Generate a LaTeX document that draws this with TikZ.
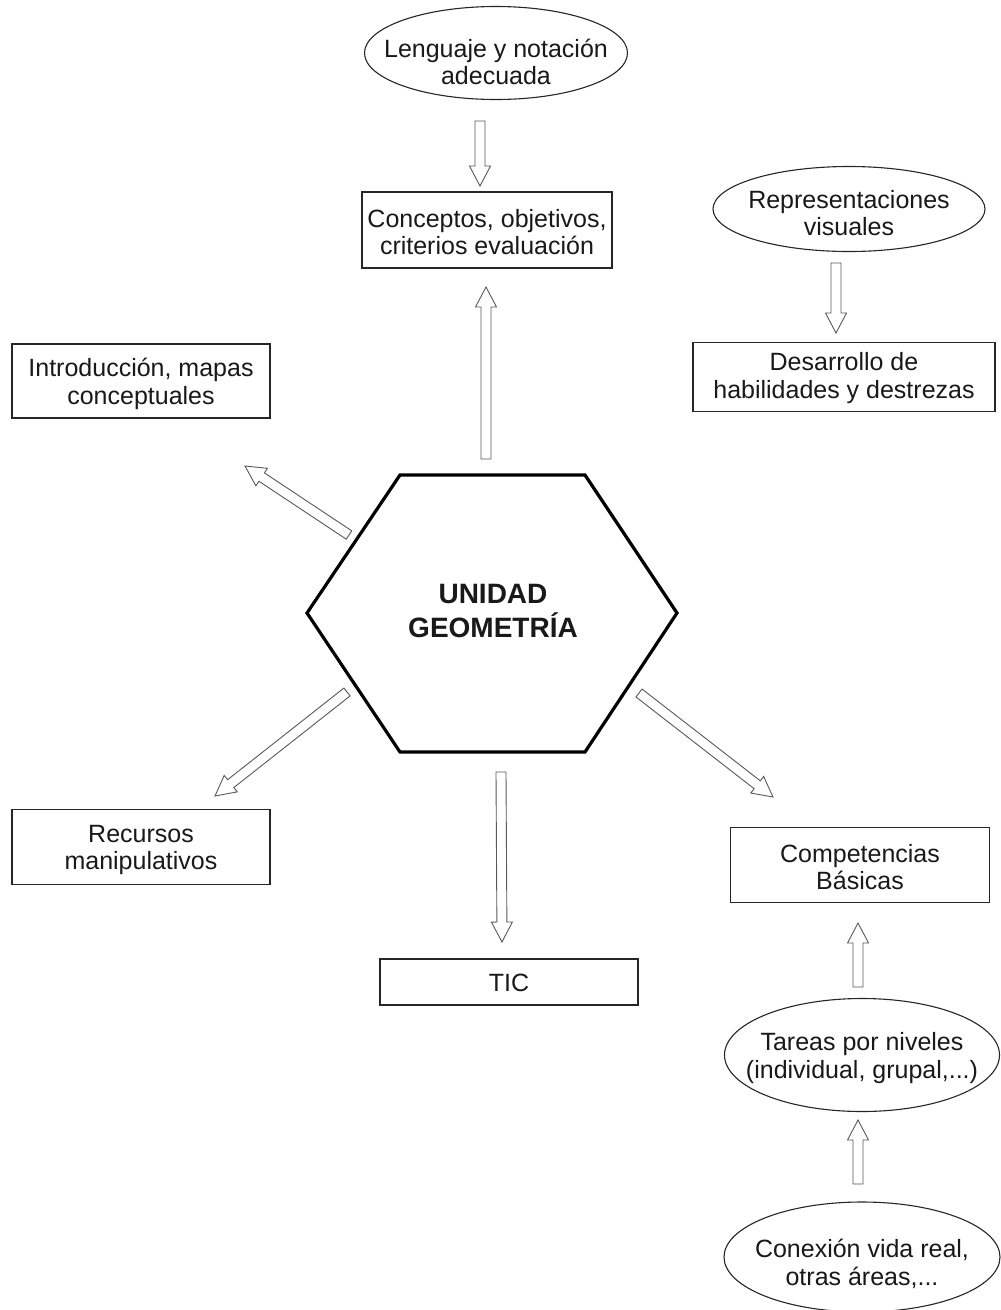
\documentclass[tikz,border=0pt]{standalone}
\usepackage{fontspec}
\setmainfont{Liberation Sans}
\usetikzlibrary{calc,shapes.geometric}
\tikzset{
  txt/.style={font=\fontsize{25}{27.5}\selectfont, align=center, inner sep=0pt, text=black!90},
  box/.style={draw=black!85, line width=1.3pt, rectangle, inner sep=0pt},
  ovalshape/.style={draw=black!85, line width=1.1pt, ellipse, inner sep=0pt},
  barrowline/.style={draw=black!65, line width=0.9pt, fill=white, line join=miter},
  hexline/.style={draw=black, line width=3.2pt, line join=miter}
}
\newcommand\blockarrow[2]{%
  \coordinate (bah) at ($(#2)!20pt!(#1)$);
  \path[barrowline] ($(#1)!5pt!90:(#2)$) -- ($(bah)!5pt!-90:(#1)$) -- ($(bah)!10.5pt!-90:(#1)$) -- (#2)
    -- ($(bah)!10.5pt!90:(#1)$) -- ($(bah)!5pt!90:(#1)$) -- ($(#1)!5pt!-90:(#2)$) -- cycle;}
\begin{document}
\begin{tikzpicture}[x=1pt,y=-1pt]
\useasboundingbox[fill=white] (0,0) rectangle (1001,1310);

% hexagon
\coordinate (h1) at (400,475);
\coordinate (h2) at (585,475);
\coordinate (h3) at (677,613);
\coordinate (h4) at (585,752);
\coordinate (h5) at (400,752);
\coordinate (h6) at (307,613);
\draw[hexline] (h1) -- (h2) -- (h3) -- (h4) -- (h5) -- (h6) -- cycle;
\node[txt, font=\fontsize{28}{34}\selectfont\bfseries] (hex) at (493,611) {UNIDAD\\GEOMETRÍA};

% ellipses
\node[ovalshape, minimum width=263pt, minimum height=93pt] (lang) at (496,53) {};
\node[txt] (langt) at ([yshift=-9pt]lang.center) {Lenguaje y notación\\adecuada};
\node[ovalshape, minimum width=272pt, minimum height=85pt] (repr) at (849,209) {};
\node[txt] (reprt) at ([yshift=-4pt]repr.center) {Representaciones\\visuales};
\node[ovalshape, minimum width=275pt, minimum height=113pt] (tar) at (862,1055) {};
\node[txt] (tart) at ([yshift=-3pt]tar.center) {Tareas por niveles\\(individual, grupal,...)};
\node[ovalshape, minimum width=276pt, minimum height=110pt] (con) at (862,1257) {};
\node[txt] (cont) at ([yshift=-7pt]con.center) {Conexión vida real,\\otras áreas,...};

% boxes
\node[box, minimum width=250pt, minimum height=76pt] (conc) at (487,230) {};
\node[txt] (conct) at ([yshift=-2pt]conc.center) {Conceptos, objetivos,\\criterios evaluación};
\node[box, minimum width=258pt, minimum height=74pt] (intro) at (141,381) {};
\node[txt] (introt) at ([yshift=-3pt]intro.center) {Introducción, mapas\\conceptuales};
\node[box, minimum width=302pt, minimum height=69pt] (des) at (844,377) {};
\node[txt] (dest) at ([yshift=-1pt]des.center) {Desarrollo de\\habilidades y destrezas};
\node[box, minimum width=258pt, minimum height=75pt] (rec) at (141,847) {};
\node[txt] (rect) at ([yshift=-3pt]rec.center) {Recursos\\manipulativos};
\node[box, minimum width=258pt, minimum height=46pt] (tic) at (509,982) {};
\node[txt] (tict) at ([yshift=-1pt]tic.center) {TIC};
\node[box, minimum width=259pt, minimum height=75pt] (comp) at (860,865) {};
\node[txt] (compt) at ([yshift=-2pt]comp.center) {Competencias\\Básicas};

% arrow end points
\coordinate (a1s) at (480,121);  \coordinate (a1e) at (480,186);
\coordinate (a2s) at (486,459);  \coordinate (a2e) at (486,287);
\coordinate (a3s) at (836,263);  \coordinate (a3e) at (836,333);
\coordinate (a4s) at (349,535);  \coordinate (a4e) at (245,466);
\coordinate (a5s) at (347,692);  \coordinate (a5e) at (215,796);
\coordinate (a6s) at (501,772);  \coordinate (a6e) at (502,942);
\coordinate (a7s) at (639,693);  \coordinate (a7e) at (773,797);
\coordinate (a8s) at (858,987);  \coordinate (a8e) at (858,923);
\coordinate (a9s) at (858,1184); \coordinate (a9e) at (858,1120);

\blockarrow{a1s}{a1e}
\blockarrow{a2s}{a2e}
\blockarrow{a3s}{a3e}
\blockarrow{a4s}{a4e}
\blockarrow{a5s}{a5e}
\blockarrow{a6s}{a6e}
\blockarrow{a7s}{a7e}
\blockarrow{a8s}{a8e}
\blockarrow{a9s}{a9e}
\end{tikzpicture}
\end{document}
